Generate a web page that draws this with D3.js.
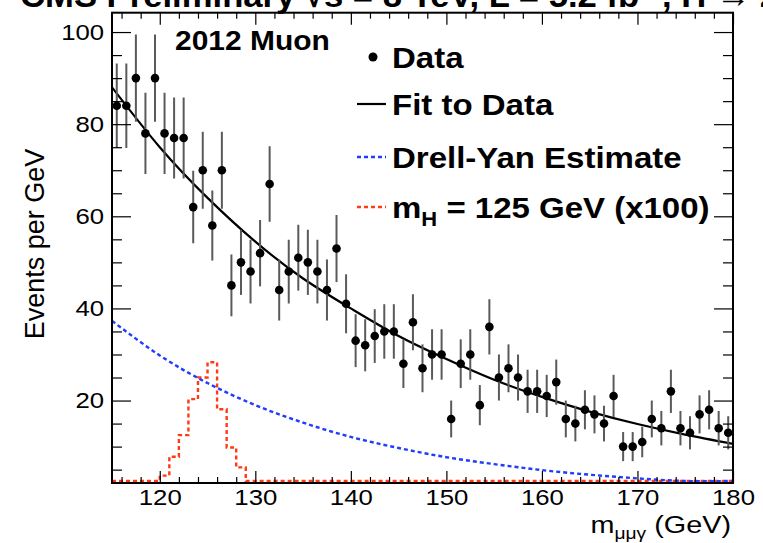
<!DOCTYPE html>
<html>
<head>
<meta charset="utf-8">
<script src="https://cdn.jsdelivr.net/npm/d3@7/dist/d3.min.js"></script>
<style>
  html, body { margin: 0; padding: 0; background: #fff; }
  svg { display: block; font-family: "Liberation Sans", Arial, Helvetica, sans-serif; }
</style>
</head>
<body>
<svg id="chart" width="763" height="543"></svg>
<script>
// Bin centres (1 GeV bins) and observed events per GeV
const massCenters = d3.range(115.5, 180, 1);
const eventsPerGeV = [
  84, 84, 90, 78, 90, 78, 77, 77, 62, 70, 58, 70, 45, 50, 48,
  52, 67, 44, 48, 51, 50, 48, 44, 53, 41, 33, 32, 34, 35, 35,
  28, 37, 27, 30, 30, 16, 28, 30, 19, 36, 25, 27, 25, 22, 22, 21,
  24, 16, 15, 18, 17, 15, 21, 10, 10, 11, 16, 14, 22, 14, 13, 17, 18, 14, 13
];

// Fit to data, sampled every 5 GeV
const curveMass = [115, 120, 125, 130, 135, 140, 145, 150, 155, 160, 165, 170, 175, 180];
const fitValues = [88, 75, 64, 54.5, 46.5, 40, 34, 29, 24.5, 20.8, 17.6, 14.9, 12.6, 10.6];

// Drell-Yan estimate, same sampling
const dyValues = [37.3, 29.8, 23.8, 19.0, 15.2, 12.1, 9.7, 7.7, 6.2, 4.9, 3.9, 3.1, 2.5, 2.0];

// Signal template m_H = 125 GeV (x100), 1 GeV bins, lower edges
const signalEdges = [120, 121, 122, 123, 124, 125, 126, 127, 128];
const signalValues = [3.7, 7.8, 12.5, 20.3, 25, 28.3, 18.1, 9.8, 5.5];

// Axis ticks
const xMajorTicks = [120, 130, 140, 150, 160, 170, 180];
const xMinorTicks = d3.range(116, 181, 2).filter(v => v % 10 !== 0);
const yMajorTicks = [20, 40, 60, 80, 100];
const yMinorTicks = [5, 10, 15, 25, 30, 35, 45, 50, 55, 65, 70, 75, 85, 90, 95];

const svg = d3.select("#chart");
const L = 112, R = 733, T = 12.7, B = 483;
const yMin = 2.1, yMax = 104.2;
const WIDE = 1.12; // horizontal stretch applied to the lettering

const x = d3.scaleLinear().domain([115, 180]).range([L, R]);
const y = d3.scaleLinear().domain([yMin, yMax]).range([B, T]);
// values below the axis minimum are drawn along the bottom edge
const yFloor = v => Math.min(y(v), B - 2);

// Clip region for plotted curves
svg.append("defs").append("clipPath").attr("id", "plotArea")
  .append("rect").attr("x", L).attr("y", T).attr("width", R - L).attr("height", B - T);

const plot = svg.append("g").attr("clip-path", "url(#plotArea)");

// Signal histogram (step outline, zero outside the peak)
const sigPts = [];
d3.range(115, 180, 1).forEach(lo => {
  const i = signalEdges.indexOf(lo);
  sigPts.push([lo, i >= 0 ? signalValues[i] : 0]);
});
sigPts.push([180, 0]);
plot.append("path")
  .datum(sigPts)
  .attr("fill", "none")
  .attr("stroke", "#ff3a14")
  .attr("stroke-width", 2.4)
  .attr("stroke-dasharray", "4,3")
  .attr("d", d3.line().x(d => x(d[0])).y(d => yFloor(d[1])).curve(d3.curveStepAfter));

// Drell-Yan estimate
plot.append("path")
  .datum(curveMass.map((m, i) => [m, dyValues[i]]))
  .attr("fill", "none")
  .attr("stroke", "#1f3cff")
  .attr("stroke-width", 2.4)
  .attr("stroke-dasharray", "4,3")
  .attr("d", d3.line().x(d => x(d[0])).y(d => yFloor(d[1])).curve(d3.curveNatural));

// Fit to data
plot.append("path")
  .datum(curveMass.map((m, i) => [m, fitValues[i]]))
  .attr("fill", "none")
  .attr("stroke", "#000")
  .attr("stroke-width", 2.2)
  .attr("d", d3.line().x(d => x(d[0])).y(d => y(d[1])).curve(d3.curveNatural));

// Data points with Poisson error bars
const data = massCenters.map((m, i) => ({ m, v: eventsPerGeV[i] }));
plot.append("g").selectAll("line").data(data).join("line")
  .attr("x1", d => x(d.m)).attr("x2", d => x(d.m))
  .attr("y1", d => y(d.v + Math.sqrt(d.v)))
  .attr("y2", d => y(d.v - Math.sqrt(d.v)))
  .attr("stroke", "#5a5a5a")
  .attr("stroke-width", 2);
plot.append("g").selectAll("circle").data(data).join("circle")
  .attr("cx", d => x(d.m)).attr("cy", d => y(d.v))
  .attr("r", 4.3)
  .attr("fill", "#000");

// Axes: ticks point inward on all four sides
function styleAxis(g) {
  g.select(".domain").remove();
  g.selectAll(".tick line").attr("stroke", "#000").attr("stroke-width", 1.2);
  g.selectAll(".tick text").attr("fill", "#000").attr("font-size", 23)
    .attr("font-family", "'Liberation Sans', Arial, sans-serif")
    .attr("transform", `scale(${WIDE},1)`);
}
svg.append("g").attr("transform", `translate(0,${B})`)
  .call(d3.axisBottom(x).tickValues(xMajorTicks).tickSize(-12).tickPadding(6).tickFormat(d3.format("d")))
  .call(styleAxis);
svg.append("g").attr("transform", `translate(0,${B})`)
  .call(d3.axisBottom(x).tickValues(xMinorTicks).tickSize(-6).tickFormat(""))
  .call(styleAxis);
svg.append("g").attr("transform", `translate(0,${T})`)
  .call(d3.axisTop(x).tickValues(xMajorTicks).tickSize(-12).tickFormat(""))
  .call(styleAxis);
svg.append("g").attr("transform", `translate(0,${T})`)
  .call(d3.axisTop(x).tickValues(xMinorTicks).tickSize(-6).tickFormat(""))
  .call(styleAxis);
svg.append("g").attr("transform", `translate(${L},0)`)
  .call(d3.axisLeft(y).tickValues(yMajorTicks).tickSize(-19).tickPadding(7).tickFormat(d3.format("d")))
  .call(styleAxis);
svg.append("g").attr("transform", `translate(${L},0)`)
  .call(d3.axisLeft(y).tickValues(yMinorTicks).tickSize(-10).tickFormat(""))
  .call(styleAxis);
svg.append("g").attr("transform", `translate(${R},0)`)
  .call(d3.axisRight(y).tickValues(yMajorTicks).tickSize(-19).tickFormat(""))
  .call(styleAxis);
svg.append("g").attr("transform", `translate(${R},0)`)
  .call(d3.axisRight(y).tickValues(yMinorTicks).tickSize(-10).tickFormat(""))
  .call(styleAxis);

// Frame
svg.append("rect")
  .attr("x", L).attr("y", T).attr("width", R - L).attr("height", B - T)
  .attr("fill", "none").attr("stroke", "#000").attr("stroke-width", 2);

// Title (runs off the top edge)
svg.append("text")
  .attr("transform", "translate(20,7) scale(1.05,1)")
  .attr("font-size", 33).attr("font-weight", "bold")
  .text("CMS Preliminary √s = 8 TeV, L = 5.2 fb⁻¹, H → Zγ");

// Axis titles
svg.append("text")
  .attr("transform", "translate(44,244) rotate(-90)")
  .attr("text-anchor", "middle")
  .attr("font-size", 27)
  .text("Events per GeV");

const xt = svg.append("text")
  .attr("transform", "translate(731,533) scale(1.2,1)")
  .attr("text-anchor", "end")
  .attr("font-size", 24);
xt.append("tspan").text("m");
xt.append("tspan").attr("font-size", 16).attr("dy", 6).text("μμγ");
xt.append("tspan").attr("dy", -6).text(" (GeV)");

// Channel label
svg.append("text")
  .attr("transform", "translate(175,50) scale(1.07,1)")
  .attr("font-size", 28).attr("font-weight", "bold")
  .text("2012 Muon");

// Legend
const leg = svg.append("g").attr("font-size", 30).attr("font-weight", "bold");
const legText = (yy) => leg.append("text").attr("transform", `translate(392,${yy}) scale(1.1,1)`);
leg.append("circle").attr("cx", 373).attr("cy", 57).attr("r", 4.5).attr("fill", "#000");
legText(68).text("Data");
leg.append("line").attr("x1", 357).attr("x2", 386).attr("y1", 104).attr("y2", 104)
  .attr("stroke", "#000").attr("stroke-width", 2.2);
legText(115).text("Fit to Data");
leg.append("line").attr("x1", 357).attr("x2", 386).attr("y1", 157).attr("y2", 157)
  .attr("stroke", "#1f3cff").attr("stroke-width", 2.4).attr("stroke-dasharray", "4,3");
legText(168).text("Drell-Yan Estimate");
leg.append("line").attr("x1", 357).attr("x2", 386).attr("y1", 207).attr("y2", 207)
  .attr("stroke", "#ff3a14").attr("stroke-width", 2.4).attr("stroke-dasharray", "4,3");
const sigLabel = legText(218);
sigLabel.append("tspan").text("m");
sigLabel.append("tspan").attr("font-size", 20).attr("dy", 8).text("H");
sigLabel.append("tspan").attr("dy", -8).text(" = 125 GeV (x100)");
</script>
</body>
</html>
